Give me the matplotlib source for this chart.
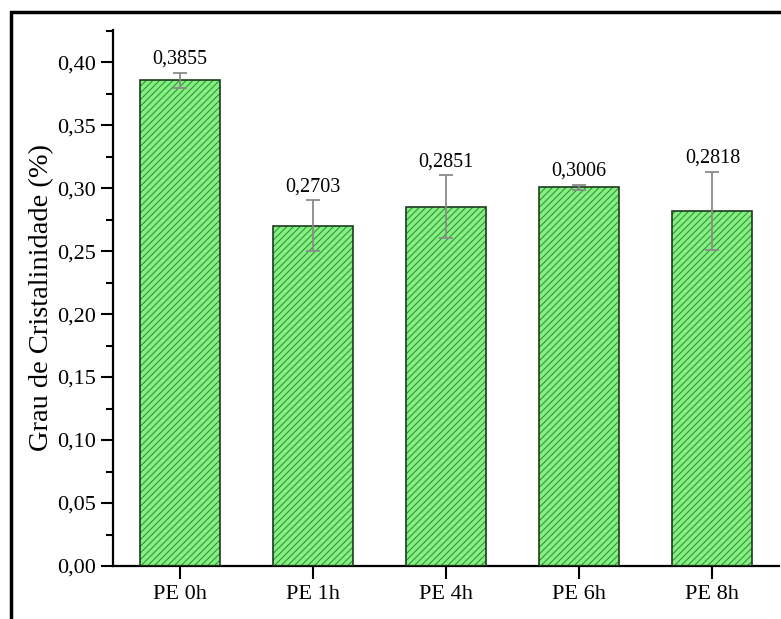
import matplotlib
matplotlib.use("Agg")
import matplotlib.pyplot as plt
from matplotlib.patches import Rectangle
from matplotlib.ticker import MultipleLocator, FuncFormatter

# Data
samples = ["PE 0h", "PE 1h", "PE 4h", "PE 6h", "PE 8h"]
crystallinity = [0.3855, 0.2703, 0.2851, 0.3006, 0.2818]
errors = [0.006, 0.020, 0.025, 0.002, 0.031]
value_labels = ["0,3855", "0,2703", "0,2851", "0,3006", "0,2818"]

plt.rcParams["font.family"] = ["Liberation Serif", "DejaVu Serif"]
plt.rcParams["hatch.linewidth"] = 0.7

W, H = 781, 619
fig = plt.figure(figsize=(W / 100, H / 100), dpi=100)
ax = fig.add_axes([113 / W, 1 - 566 / H, (779 - 113) / W, (566 - 30) / H])

x = list(range(len(samples)))
fill = "#84f084"
hatch_col = "#2a8c2a"
edge = "#1e3a1e"

# hatched fill, then dark outline on top
ax.bar(x, crystallinity, width=0.6, color=fill, edgecolor=hatch_col,
       hatch="/////", linewidth=0, zorder=2)
ax.bar(x, crystallinity, width=0.6, facecolor="none", edgecolor=edge,
       linewidth=1.2, zorder=3)
ax.errorbar(x, crystallinity, yerr=errors, fmt="none", ecolor="#8a8a8a",
            elinewidth=1.3, capsize=5, capthick=1.3, zorder=4)

for xi, v, e, lab in zip(x, crystallinity, errors, value_labels):
    ax.annotate(lab, (xi, v + e), xytext=(0, 3), textcoords="offset points",
                ha="center", va="bottom", fontsize=14.5)

ax.set_xlim(-0.5, 4.5)
ax.set_ylim(0, 0.4255)
ax.set_xticks(x)
ax.set_xticklabels(samples, fontsize=16)
ax.yaxis.set_major_locator(MultipleLocator(0.05))
ax.yaxis.set_minor_locator(MultipleLocator(0.025))
ax.yaxis.set_major_formatter(FuncFormatter(lambda v, p: f"{v:.2f}".replace(".", ",")))
ax.tick_params(axis="y", labelsize=16)
ax.tick_params(which="major", direction="out", length=9, width=1.5, pad=3)
ax.tick_params(which="minor", direction="out", length=5, width=1.5)
ax.tick_params(axis="x", pad=5)
ax.set_ylabel("Grau de Cristalinidade (%)", fontsize=20.5)
ax.yaxis.set_label_coords(-0.088, 0.5)

for s in ("top", "right"):
    ax.spines[s].set_visible(False)
for s in ("left", "bottom"):
    ax.spines[s].set_linewidth(1.6)

# outer frame around the figure
fig.add_artist(Rectangle((11 / W, -0.1), 1.2, 0.1 + (H - 12) / H,
                         transform=fig.transFigure, fill=False,
                         edgecolor="black", linewidth=2.5))

fig.savefig("out.png", dpi=100)
